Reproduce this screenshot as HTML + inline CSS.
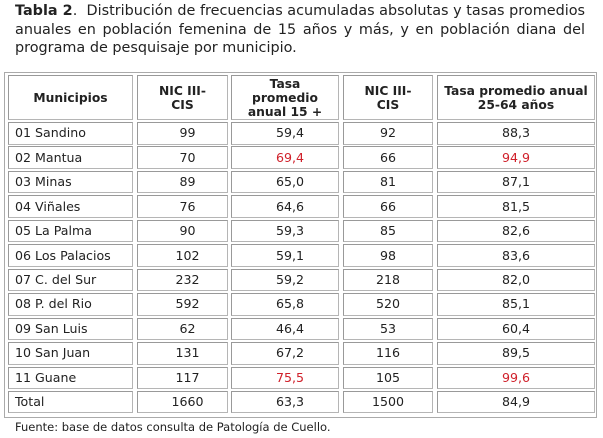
<!DOCTYPE html>
<html><head><meta charset="utf-8"><style>
body{margin:0;width:603px;height:438px;background:#fff;font-family:"DejaVu Sans","Liberation Sans",sans-serif;color:#222;position:relative;overflow:hidden}
.t{position:absolute;left:15px;width:570px;font-size:14.4px;line-height:18.5px;top:2px}
.t div{text-align:justify;text-align-last:justify;white-space:nowrap}
.t div.last{text-align-last:left}
.outer{position:absolute;left:4px;top:72px;width:593px;height:346px;border:1px solid #aaa;box-sizing:border-box}
.c{position:absolute;border:1px solid #b5b5b5;border-top-color:#999;border-left-color:#999;box-sizing:border-box;font-size:12.6px;display:flex;align-items:center;justify-content:center;text-align:center;line-height:14px}
.h{font-weight:bold;font-size:12.3px}
.l{justify-content:flex-start;padding-left:6px}
.n{padding-left:10px}
.r{color:#d0202a}
.f{position:absolute;left:15px;top:420px;font-size:11.5px}
</style></head><body>
<div class="t">
<div style="white-space:normal"><b>Tabla 2</b>. &nbsp;Distribución de frecuencias acumuladas absolutas y tasas promedios</div>
<div style="white-space:normal">anuales en población femenina de 15 años y más, y en población diana del</div>
<div class="last">programa de pesquisaje por municipio.</div>
</div>
<div class="outer"></div>
<div id="tb"></div>
<div class="f">Fuente: base de datos consulta de Patología de Cuello.</div>
<script>
const municipios=["01 Sandino","02 Mantua","03 Minas","04 Viñales","05 La Palma","06 Los Palacios","07 C. del Sur","08 P. del Rio","09 San Luis","10 San Juan","11 Guane","Total"];
const nic15=["99","70","89","76","90","102","232","592","62","131","117","1660"];
const tasa15=["59,4","69,4","65,0","64,6","59,3","59,1","59,2","65,8","46,4","67,2","75,5","63,3"];
const nic25=["92","66","81","66","85","98","218","520","53","116","105","1500"];
const tasa25=["88,3","94,9","87,1","81,5","82,6","83,6","82,0","85,1","60,4","89,5","99,6","84,9"];
const redRows=[1,10];
const headers=["Municipios","NIC III-<br>CIS","Tasa<br>promedio<br>anual 15 +","NIC III-<br>CIS","Tasa promedio anual<br>25-64 años"];
const colL=[8,137,231,343,437], colR=[133,228,339,433,595];
const tb=document.getElementById('tb');
function cell(x1,x2,y,h,html,cls,name){
  const d=document.createElement('div');
  d.className='c '+cls;
  d.style.left=x1+'px';d.style.top=y+'px';d.style.width=(x2-x1)+'px';d.style.height=h+'px';
  d.innerHTML=html;
  
  
  tb.appendChild(d);
}
headers.forEach((h,i)=>cell(colL[i],colR[i],75,45,h,'h','header-cell'));
const cols=[municipios,nic15,tasa15,nic25,tasa25];
for(let r=0;r<municipios.length;r++){
  const y=122+r*24.45;
  cols.forEach((arr,i)=>{
    let cls=i==0?'l':(i<3?'n':'');
    if((i==2||i==4)&&redRows.includes(r))cls+=' r';
    cell(colL[i],colR[i],y,22.5,arr[r],cls,r==11?'total-cell':'data-cell');
  });
}
</script>
</body></html>
